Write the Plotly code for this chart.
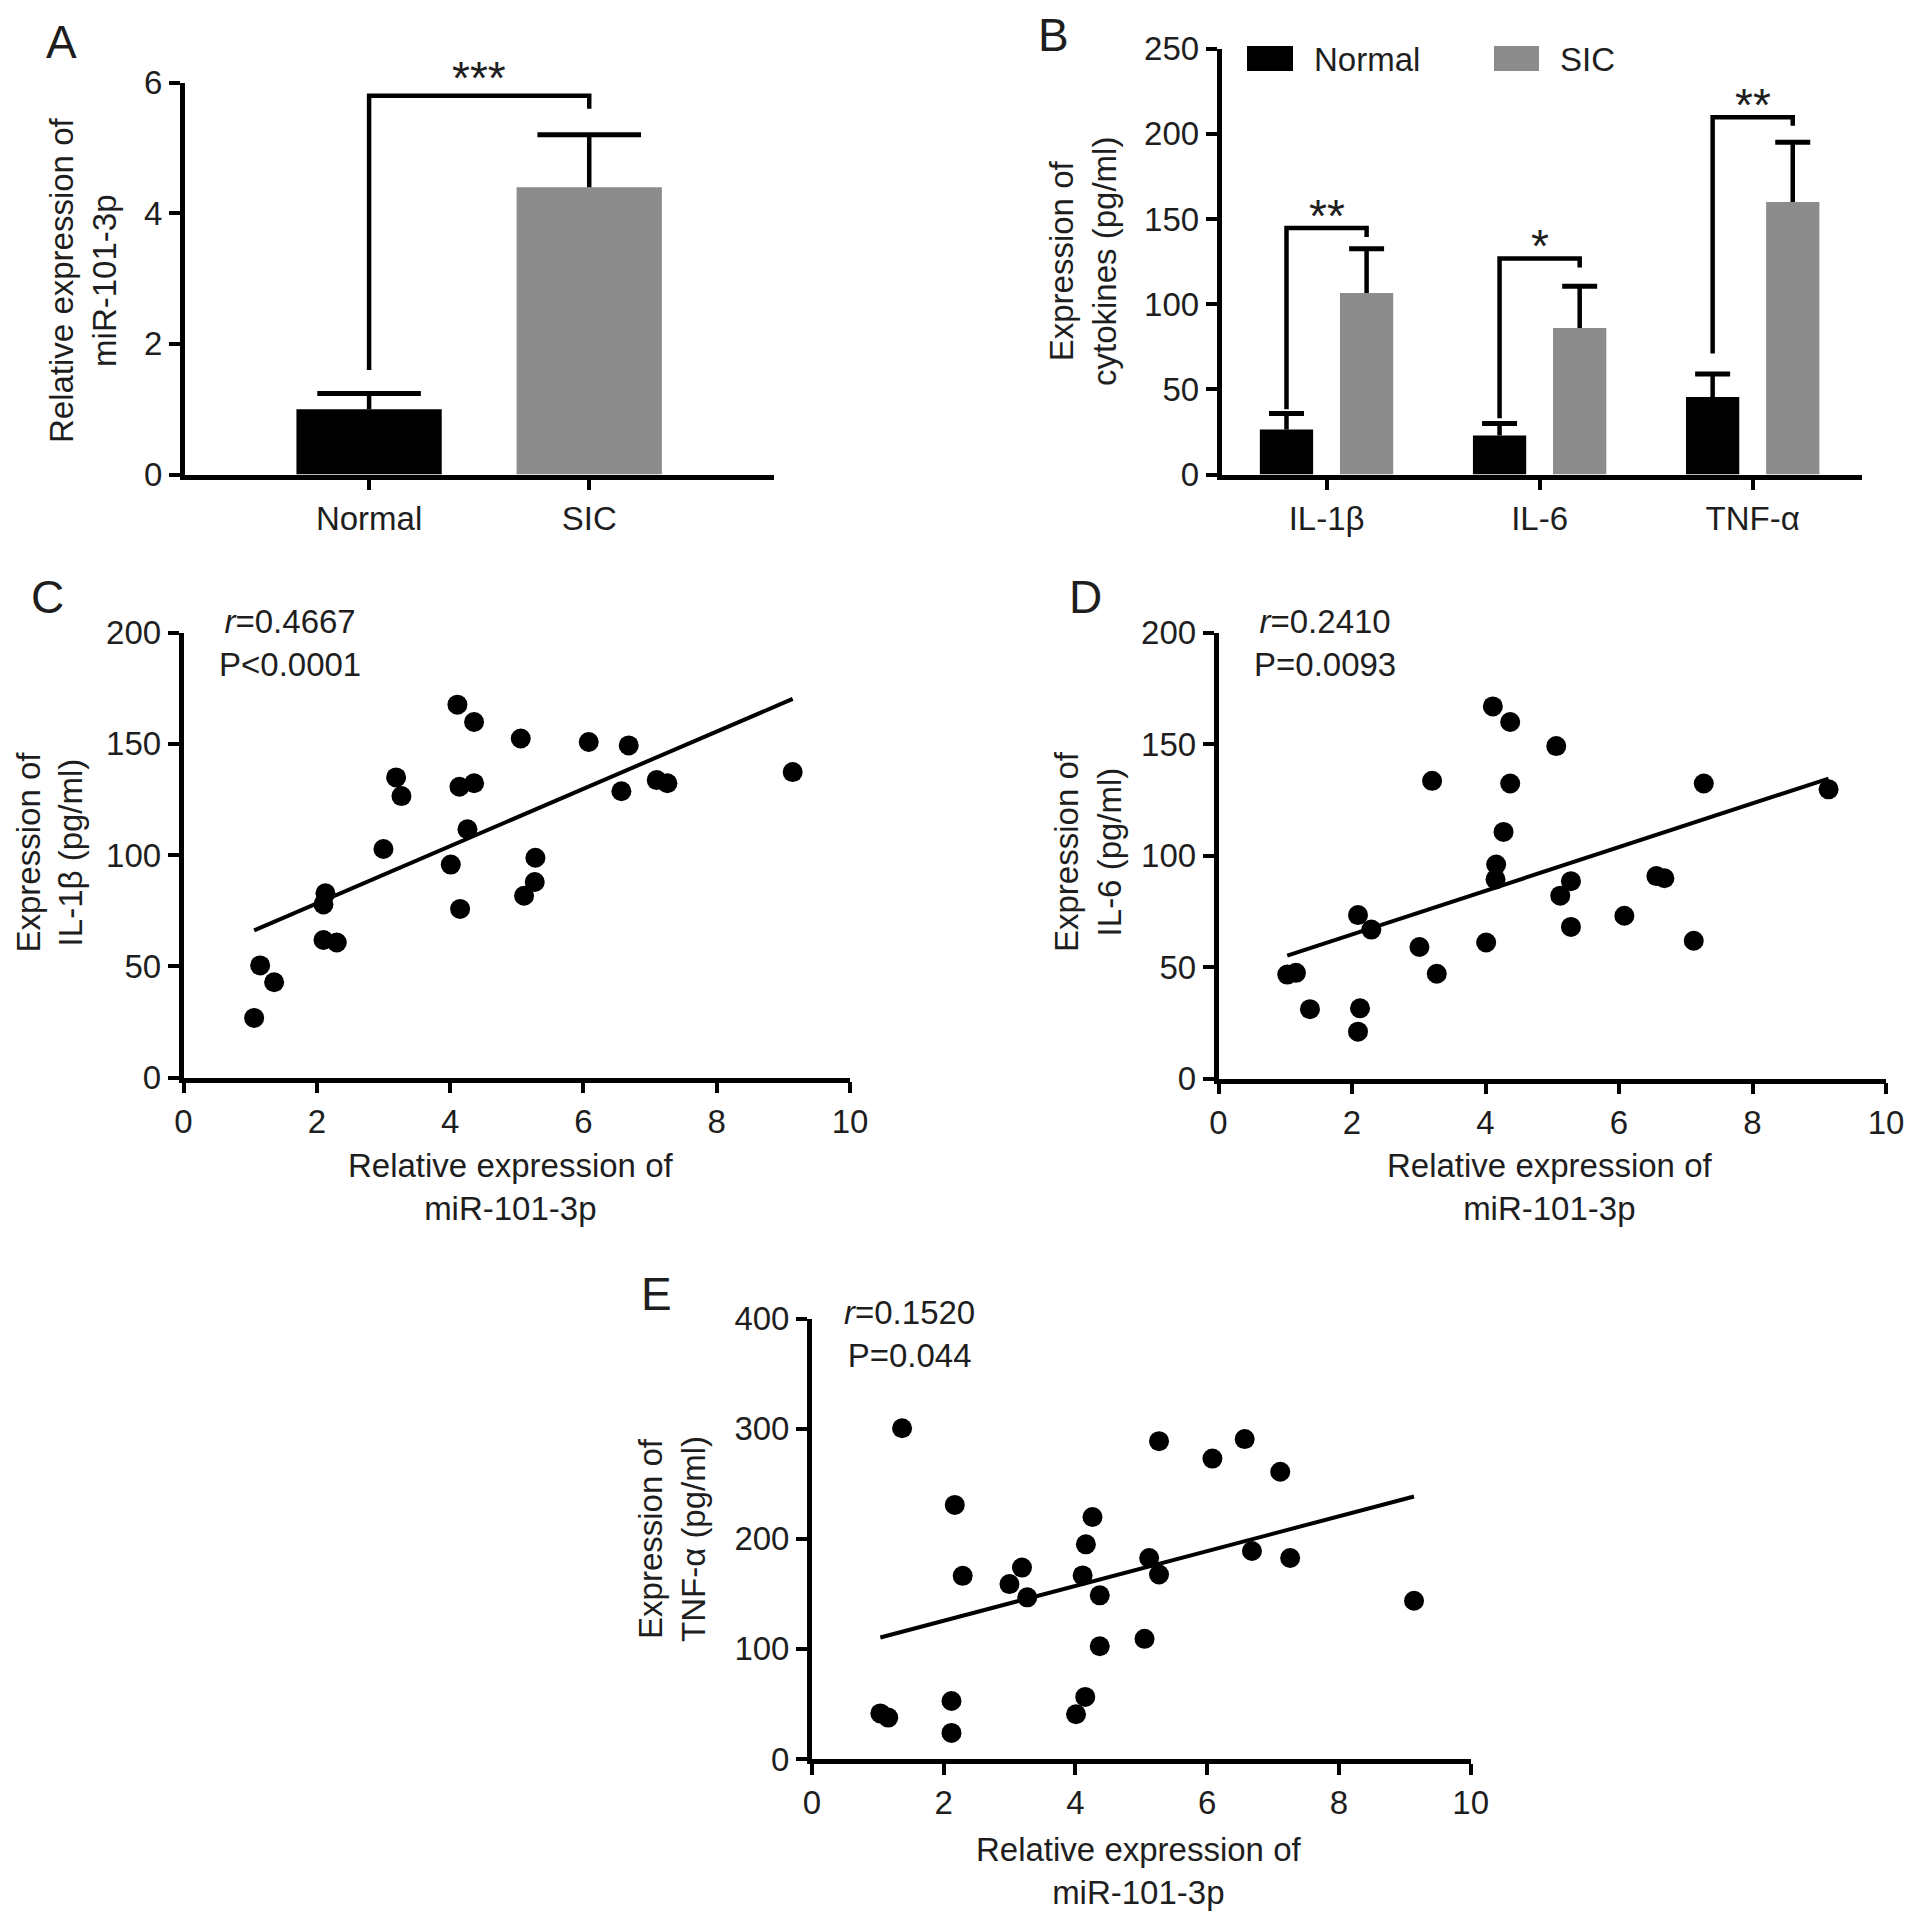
import numpy as np
import plotly.graph_objects as go

# page body has an 8px margin, so the figure is a bit smaller than the window
PAD = 8
W, H = 1913 - PAD, 1916 - PAD
FONT = "Liberation Sans"
TXT = "#1e1e1e"

# ---- panel A: miR-101-3p relative expression
a_groups = ["Normal", "SIC"]
a_mean = [1.0, 4.4]
a_sd = [0.24, 0.80]
a_colors = ["black", "#8c8c8c"]
# bracket: left bottom, top, right bottom
a_bracket = [1.60, 5.80, 5.60]
a_sig = "***"

# ---- panel B: cytokines
b_cats = ["IL-1β", "IL-6", "TNF-α"]
b_normal = [26.5, 23.0, 45.5]
b_normal_sd = [9.3, 7.0, 13.5]
b_sic = [106.5, 86.0, 160.0]
b_sic_sd = [26.0, 24.5, 35.0]
b_br_left = [38.3, 33.1, 71.0]
b_br_top = [144.7, 126.8, 209.6]
b_br_right = [139.4, 121.5, 204.7]
b_sig = ["**", "*", "**"]

# ---- scatter panels (same patients, x = miR-101-3p)
mir = [1.06, 1.15, 1.36, 2.10, 2.13, 2.10, 2.30, 3.00, 3.19, 3.27, 4.01, 4.11, 4.14,
       4.15, 4.26, 4.36, 4.36, 5.06, 5.11, 5.27, 5.28, 6.08, 6.57, 6.68, 7.10, 7.26, 9.14]
il1b = [26.8, 50.4, 42.8, 77.8, 82.8, 61.8, 60.7, 102.7, 134.9, 126.5, 95.7, 167.6, 130.7,
        75.8, 111.6, 159.8, 132.3, 152.4, 81.7, 87.9, 98.8, 150.8, 128.7, 149.3, 133.7, 132.3, 137.3]

mir_d = [1.03, 1.16, 1.37, 2.09, 2.12, 2.09, 2.29, 3.01, 3.20, 3.27, 4.01, 4.11, 4.16,
         4.15, 4.27, 4.37, 4.37, 5.06, 5.12, 5.28, 5.28, 6.08, 6.56, 6.68, 7.12, 7.27, 9.14]
il6 = [46.6, 47.4, 31.1, 73.3, 31.5, 21.0, 66.8, 59.0, 133.5, 47.0, 61.0, 166.9, 96.0,
       89.3, 110.6, 159.9, 132.3, 149.1, 82.0, 88.5, 68.0, 73.0, 90.8, 89.8, 61.8, 132.3, 129.7]

mir_e = [1.04, 1.16, 1.37, 2.12, 2.12, 2.17, 2.29, 3.00, 3.19, 3.27, 4.01, 4.11, 4.15,
         4.16, 4.26, 4.37, 4.37, 5.05, 5.12, 5.27, 5.27, 6.08, 6.57, 6.68, 7.11, 7.26, 9.14]
tnfa = [41.4, 37.6, 300.3, 52.7, 23.7, 230.7, 166.3, 158.8, 173.8, 146.8, 40.6, 166.7, 56.4,
        194.9, 219.8, 148.6, 102.4, 109.1, 182.5, 167.5, 288.6, 272.8, 290.5, 188.9, 260.8, 182.5, 143.7]

stats = ["<i>r</i>=0.4667<br>P&lt;0.0001", "<i>r</i>=0.2410<br>P=0.0093", "<i>r</i>=0.1520<br>P=0.044"]


def fx(p):
    return (p - PAD) / W


def fy(p):
    return 1 - (p - PAD) / H


axis_style = dict(showline=True, linecolor="black", linewidth=4.5, ticks="outside",
                  ticklen=11, tickwidth=4, tickcolor="black", showgrid=False, zeroline=False,
                  automargin=False,
                  tickfont=dict(family=FONT, size=33, color=TXT), fixedrange=True)

fig = go.Figure()
annotations = []
shapes = []


def ann(text, x, y, size=33, xa="center", ya="middle", angle=0, ref=("paper", "paper"), yshift=0):
    annotations.append(dict(text=text, x=x, y=y, xref=ref[0], yref=ref[1], showarrow=False,
                            xanchor=xa, yanchor=ya, textangle=angle, yshift=yshift,
                            font=dict(family=FONT, size=size, color=TXT)))


def sd_bars(xs, mean, sd, cap, xa, ya):
    # GraphPad style: stem above the bar only, one cap on top
    tops = [m + s for m, s in zip(mean, sd)]
    fig.add_trace(go.Scatter(x=xs, y=tops, mode="markers",
                             marker=dict(symbol="line-ew", size=cap, color="black",
                                         line=dict(color="black", width=5)),
                             error_y=dict(type="data", array=[0] * len(sd), arrayminus=sd,
                                          symmetric=False, color="black", thickness=4.5, width=0),
                             xaxis=xa, yaxis=ya, showlegend=False, cliponaxis=False))


# ---- A
fig.add_trace(go.Bar(x=a_groups, y=a_mean, width=0.66, marker=dict(color=a_colors, line=dict(width=0)),
                     xaxis="x", yaxis="y", showlegend=False))
sd_bars(a_groups, a_mean, a_sd, 74, "x", "y")
fig.add_trace(go.Scatter(x=[a_groups[0], a_groups[0], a_groups[1], a_groups[1]],
                         y=[a_bracket[0], a_bracket[1], a_bracket[1], a_bracket[2]],
                         mode="lines", line=dict(color="black", width=4.5),
                         xaxis="x", yaxis="y", showlegend=False, cliponaxis=False))
ann(a_sig, 0.5, a_bracket[1], size=46, ref=("x", "y"), yshift=18)

# ---- B
off = 0.188
xb = np.arange(len(b_cats))
fig.add_trace(go.Bar(x=xb - off, y=b_normal, width=0.25, marker=dict(color="black", line=dict(width=0)),
                     xaxis="x2", yaxis="y2", showlegend=False))
fig.add_trace(go.Bar(x=xb + off, y=b_sic, width=0.25, marker=dict(color="#8c8c8c", line=dict(width=0)),
                     xaxis="x2", yaxis="y2", showlegend=False))
sd_bars(xb - off, b_normal, b_normal_sd, 25, "x2", "y2")
sd_bars(xb + off, b_sic, b_sic_sd, 25, "x2", "y2")
for i in range(len(b_cats)):
    fig.add_trace(go.Scatter(x=[i - off, i - off, i + off, i + off],
                             y=[b_br_left[i], b_br_top[i], b_br_top[i], b_br_right[i]],
                             mode="lines", line=dict(color="black", width=4.5),
                             xaxis="x2", yaxis="y2", showlegend=False, cliponaxis=False))
    ann(b_sig[i], i, b_br_top[i], size=46, ref=("x2", "y2"), yshift=12)

# legend for B drawn by hand
for (x0, x1), col, lab in [((1247, 1293), "black", "Normal"), ((1494, 1539), "#8c8c8c", "SIC")]:
    shapes.append(dict(type="rect", xref="paper", yref="paper", x0=fx(x0), x1=fx(x1),
                       y0=fy(71), y1=fy(46), fillcolor=col, line=dict(width=0)))
    ann(lab, fx(x1 + 19), fy(59), xa="left")

# ---- scatter panels
scatter_sets = [(mir, il1b, "3"), (mir_d, il6, "4"), (mir_e, tnfa, "5")]
for xs, ys, k in scatter_sets:
    fig.add_trace(go.Scatter(x=xs, y=ys, mode="markers", marker=dict(color="black", size=20),
                             xaxis="x" + k, yaxis="y" + k, showlegend=False, cliponaxis=False))
    slope, icpt = np.polyfit(xs, ys, 1)
    lx = np.array([min(xs), max(xs)])
    fig.add_trace(go.Scatter(x=lx, y=slope * lx + icpt, mode="lines", line=dict(color="black", width=4),
                             xaxis="x" + k, yaxis="y" + k, showlegend=False))

# ---- axes layout
lay = dict(
    xaxis=dict(axis_style, domain=[fx(184.6), fx(773.5)], anchor="y", type="category",
               range=[-0.838, 1.837]),
    yaxis=dict(axis_style, domain=[fy(474.6), fy(82.6)], anchor="x", range=[0, 6],
               tickvals=[0, 2, 4, 6]),
    xaxis2=dict(axis_style, domain=[fx(1221.5), fx(1862)], anchor="y2", range=[-0.493, 2.513],
                tickvals=list(xb), ticktext=b_cats),
    yaxis2=dict(axis_style, domain=[fy(474.6), fy(48.5)], anchor="x2", range=[0, 250],
                tickvals=[0, 50, 100, 150, 200, 250]),
    xaxis3=dict(axis_style, domain=[fx(183.5), fx(850)], anchor="y3", range=[0, 10], dtick=2),
    yaxis3=dict(axis_style, domain=[fy(1077.5), fy(632.6)], anchor="x3", range=[0, 200], dtick=50),
    xaxis4=dict(axis_style, domain=[fx(1218.5), fx(1886)], anchor="y4", range=[0, 10], dtick=2),
    yaxis4=dict(axis_style, domain=[fy(1078.5), fy(632.6)], anchor="x4", range=[0, 200], dtick=50),
    xaxis5=dict(axis_style, domain=[fx(811.8), fx(1470.7)], anchor="y5", range=[0, 10], dtick=2),
    yaxis5=dict(axis_style, domain=[fy(1759), fy(1318.5)], anchor="x5", range=[0, 400], dtick=100),
)

# panel letters
for lab, x, y in [("A", 61, 42), ("B", 1053, 35), ("C", 47, 597), ("D", 1085, 597), ("E", 656, 1294)]:
    ann(lab, fx(x), fy(y), size=46)

# axis titles
ann("Relative expression of<br>miR-101-3p", fx(83), fy(281), angle=-90)
ann("Expression of<br>cytokines (pg/ml)", fx(1083), fy(262), angle=-90)
ann("Expression of<br>IL-1β (pg/ml)", fx(49.5), fy(852), angle=-90)
ann("Expression of<br>IL-6 (pg/ml)", fx(1088), fy(852), angle=-90)
ann("Expression of<br>TNF-α (pg/ml)", fx(672), fy(1539), angle=-90)
ann("Relative expression of<br>miR-101-3p", fx(510), fy(1187))
ann("Relative expression of<br>miR-101-3p", fx(1549), fy(1187))
ann("Relative expression of<br>miR-101-3p", fx(1138), fy(1871))

# correlation stats
for s, x, y in zip(stats, [217, 1252, 842], [643.5, 643.5, 1333.5]):
    ann(s, fx(x), fy(y), xa="left")

fig.update_layout(
    width=W, height=H, autosize=False,
    margin=dict(l=0, r=0, t=0, b=0, autoexpand=False),
    paper_bgcolor="white", plot_bgcolor="white",
    font=dict(family=FONT, size=33, color=TXT),
    annotations=annotations, shapes=shapes,
    **lay,
)

fig.write_html("out.html")
